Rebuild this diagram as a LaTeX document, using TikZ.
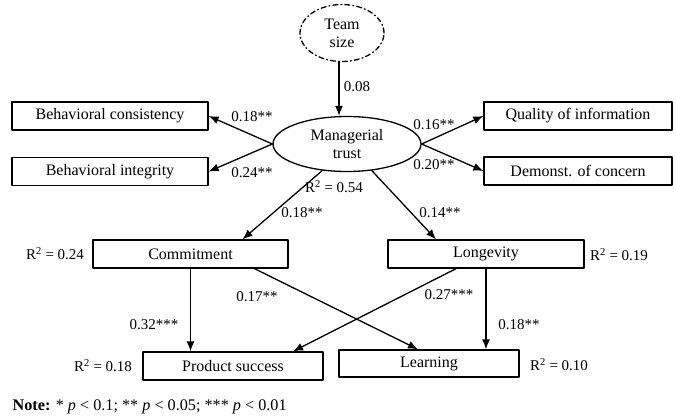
\documentclass[tikz,border=0pt]{standalone}
\usepackage{fontspec}
\setmainfont{Liberation Serif}
\usetikzlibrary{arrows.meta,shapes.geometric}
\begin{document}
\begin{tikzpicture}[x=1pt,y=-1pt,line width=1.3pt,>={Latex[length=10pt,width=8pt]},
 line cap=round,line join=round,font=\fontsize{16}{18}\selectfont,
 box/.style={draw,rectangle,inner sep=0pt,minimum height=28pt},
 lbl/.style={font=\fontsize{15}{17}\selectfont,inner sep=0pt}]
\useasboundingbox (0,0) rectangle (676,415);
% latent variables
\node[draw,ellipse,dash pattern=on 5pt off 3pt on 1pt off 3pt,minimum width=84pt,minimum height=57pt,inner sep=0pt,align=center] (team) at (342,33) {Team\\size};
\node[draw,ellipse,minimum width=148pt,minimum height=55pt,inner sep=0pt,align=center] (trust) at (347,144) {Managerial\\trust};
% indicators
\node[box,minimum width=196pt] (cons) at (110,116) {Behavioral consistency};
\node[box,minimum width=196pt] (integ) at (110,171.5) {Behavioral integrity};
\node[box,minimum width=188pt] (qual) at (578,116) {Quality of information};
\node[box,minimum width=188pt] (concern) at (578,171) {Demonst. of concern};
% outcomes
\node[box,minimum width=195pt] (comm) at (190.5,254) {Commitment};
\node[box,minimum width=196pt] (long) at (486,254) {Longevity};
\node[box,minimum width=180pt] (prod) at (233,366) {Product success};
\node[box,minimum width=180pt,minimum height=27pt] (learn) at (429,363.5) {Learning};
% paths
\draw[->] ([xshift=-3pt]team.south) -- ([xshift=-3pt]team.south |- trust.north);
\draw[->] (trust.west) -- (cons.east);
\draw[->] (trust.west) -- (integ.east);
\draw[->] (trust.east) -- (qual.west);
\draw[->] (trust.east) -- (concern.west);
\draw[->] (trust.227) -- ([xshift=52pt]comm.north);
\draw[->] (trust.313) -- ([xshift=-50pt]long.north);
\draw[->] (comm.south) -- (comm.south |- prod.north);
\draw[->] ([xshift=64pt]comm.south) -- ([xshift=-11pt]learn.north);
\draw[->] ([xshift=-30pt]long.south) -- ([xshift=60pt]prod.north);
\draw[->] (long.south) -- (long.south |- learn.north);
% coefficients
\node[lbl] (c1) at (357,87) {0.08};
\node[lbl] (c2) at (252,117) {0.18**};
\node[lbl] (c3) at (252,173) {0.24**};
\node[lbl] (c4) at (434,125) {0.16**};
\node[lbl] (c5) at (434,165) {0.20**};
\node[lbl] (c6) at (302,213) {0.18**};
\node[lbl] (c7) at (440,213) {0.14**};
\node[lbl] (c8) at (154,325) {0.32***};
\node[lbl] (c9) at (257,297) {0.17**};
\node[lbl] (c10) at (449,295) {0.27***};
\node[lbl] (c11) at (519,325) {0.18**};
% explained variance
\node[lbl] (r1) at (334,187) {R\textsuperscript{2} = 0.54};
\node[lbl] (r2) at (55,254) {R\textsuperscript{2} = 0.24};
\node[lbl] (r3) at (619,255) {R\textsuperscript{2} = 0.19};
\node[lbl] (r4) at (103,366) {R\textsuperscript{2} = 0.18};
\node[lbl] (r5) at (559,365) {R\textsuperscript{2} = 0.10};
\node[lbl,anchor=west,font=\fontsize{16.2}{18}\selectfont] (note) at (12,407) {\textbf{Note:} * \textit{p} < 0.1; ** \textit{p} < 0.05; *** \textit{p} < 0.01};
\end{tikzpicture}
\end{document}
